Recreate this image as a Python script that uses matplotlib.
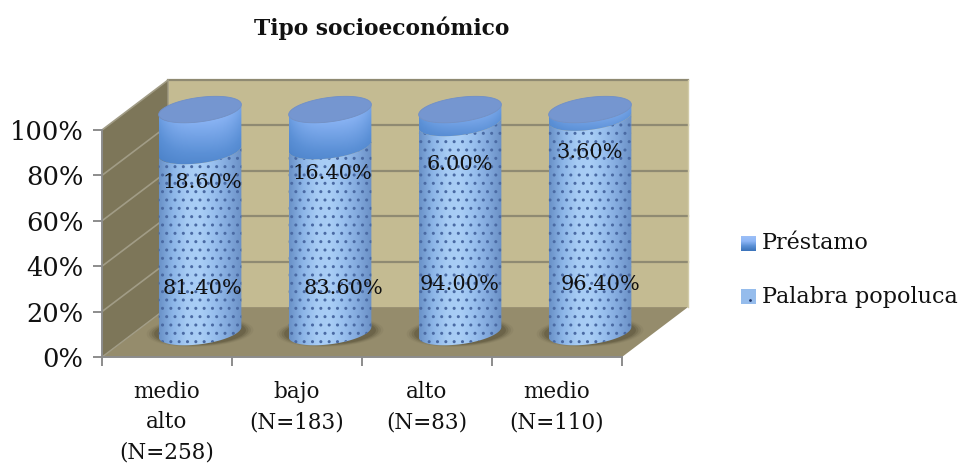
import numpy as np
import matplotlib
matplotlib.use('Agg')
import matplotlib.pyplot as plt
from matplotlib.patches import Polygon, Ellipse
from matplotlib.colors import LinearSegmentedColormap

# Valeurs du graphique
categories = ['medio\nalto\n(N=258)', 'bajo\n(N=183)', 'alto\n(N=83)', 'medio\n(N=110)']
palabra = [81.4, 83.6, 94.0, 96.4]
prestamo = [18.6, 16.4, 6.0, 3.6]
series_names = ['Préstamo', 'Palabra popoluca']
y_ticks = [0, 20, 40, 60, 80, 100]

# Position des étiquettes : décalage horizontal (catégories) et hauteur (%)
label_low_dx = [0.02, 0.1, 0.0, 0.08]
label_low_y = [30, 30, 32, 32]
label_up_dx = [0.02, 0.02, 0.0, 0.0]
label_up_y = [77, 81, 85, 90]

# Profondeur de la boîte 3D, en unités de données
DX, DY = 0.508, 22.0
RAD_X, RAD_Y, TILT = 0.318, 5.4, 7.0
# Les cylindres sont un peu raccourcis par la perspective
PERSP = 0.98
SERIF = 'DejaVu Serif'

plt.rcParams['font.family'] = SERIF

fig = plt.figure(figsize=(9.6, 4.66), dpi=100)
ax = fig.add_axes([102/960, (466-357)/466, 520/960, 227/466])


def wall(points, color):
    ax.add_patch(Polygon(points, closed=True, fc=color, ec='none', clip_on=False, zorder=1))


# Parois du fond, du côté et du sol
wall([(DX, DY), (4+DX, DY), (4+DX, 100+DY), (DX, 100+DY)], '#c4bb92')
wall([(0, 0), (DX, DY), (DX, 100+DY), (0, 100)], '#7d7659')
wall([(0, 0), (4, 0), (4+DX, DY), (DX, DY)], '#958c6c')

# Grille
for t in y_ticks[1:]:
    ax.plot([DX, 4+DX], [t+DY, t+DY], color='#8f8a72', lw=1.6, clip_on=False, zorder=2)
    ax.plot([0, DX], [t, t+DY], color='#a19c86', lw=1.2, clip_on=False, zorder=2)
ax.plot([0, DX, DX], [0, DY, 100+DY], color='#a19c86', lw=1, clip_on=False, zorder=2)
ax.plot([4+DX, 4+DX], [DY, 100+DY], color='#d2cba8', lw=1, clip_on=False, zorder=2)

body_cmap = LinearSegmentedColormap.from_list(
    'corps', ['#6a92c8', '#8db6e8', '#a6cbf4', '#a9cef6', '#98bfee', '#82a9dd', '#6b91c6'])
top_cmap = LinearSegmentedColormap.from_list('haut', ['#3c74bb', '#5b90d6', '#8db6f6', '#9cbff7'])


def arc(cx, cy, n=60):
    t = np.linspace(np.pi, 2*np.pi, n)
    x = cx + RAD_X*np.cos(t)
    y = cy + RAD_Y*np.sin(t) + TILT*(x-cx)
    return np.column_stack([x, y])


def section(cx, y0, y1):
    # Contour : arc bas de y0 puis arc bas de y1 à l'envers
    return Polygon(np.vstack([arc(cx, y0), arc(cx, y1)[::-1]]), closed=True, transform=ax.transData)


def paint(img, cx, y0, y1, clip, cmap, z):
    im = ax.imshow(img, extent=[cx-RAD_X, cx+RAD_X, y0-12, y1+12], aspect='auto',
                   cmap=cmap, vmin=0, vmax=1, zorder=z, interpolation='bilinear', origin='lower')
    im.set_clip_path(clip)
    # Les cylindres débordent du cadre des axes
    im.set_clip_box(fig.bbox)


xs = np.linspace(0, 1, 80)
for i, (v_low, v_up) in enumerate(zip(palabra, prestamo)):
    cx = i + 0.5 + DX/2
    base = DY/2
    mid = v_low*PERSP + base
    top = (v_low + v_up)*PERSP + base

    # Ombre au sol
    for scale, alpha in [(1.28, 0.08), (1.22, 0.14), (1.16, 0.22), (1.1, 0.3)]:
        ax.add_patch(Ellipse((cx, base), 2*RAD_X*scale, 2*RAD_Y*scale*0.95, angle=-0.5,
                             fc='#4f4830', ec='none', alpha=alpha, clip_on=False, zorder=3))

    # Segment du bas
    clip = section(cx, base, mid)
    paint(xs[None, :], cx, base, mid, clip, body_cmap, 4)
    ax.add_patch(Polygon(clip.get_xy(), closed=True, fc='none', ec='#4a6aa3', lw=0,
                         hatch='..', clip_on=False, zorder=5))

    # Segment du haut, dégradé vertical assombri sur les bords
    clip = section(cx, mid, top)
    yy = np.linspace(0, 1, 60)
    shade = 1 - 0.35*np.abs(2*xs-1)**3
    paint(np.outer(yy, shade), cx, mid-RAD_Y, top, clip, top_cmap, 6)

    # Couvercle
    t = np.linspace(0, 2*np.pi, 120)
    lx = cx + RAD_X*np.cos(t)
    ly = top + RAD_Y*np.sin(t) + TILT*(lx-cx)
    ax.add_patch(Polygon(np.column_stack([lx, ly]), closed=True, fc='#7596d0', ec='#6f8fc8',
                         lw=0.6, clip_on=False, zorder=7))

    # Étiquettes
    ax.text(cx+label_low_dx[i], label_low_y[i], f'{v_low:.2f}%', ha='center', va='center',
            fontsize=15, color='#111111', zorder=9, clip_on=False)
    ax.text(cx+label_up_dx[i], label_up_y[i], f'{v_up:.2f}%', ha='center', va='center',
            fontsize=15, color='#111111', zorder=9, clip_on=False)

ax.set_xlim(0, 4)
ax.set_ylim(0, 100)
for s in ['top', 'right']:
    ax.spines[s].set_visible(False)
for s in ['left', 'bottom']:
    ax.spines[s].set_color('#8c8c8c')
    ax.spines[s].set_linewidth(1.4)
    ax.spines[s].set_zorder(8)
ax.patch.set_visible(False)

ax.set_yticks(y_ticks)
ax.set_yticklabels([f'{t}%' for t in y_ticks], fontsize=18.5, color='#111111')
ax.set_xticks(range(5))
ax.set_xticklabels([])
ax.set_xticks(np.arange(4)+0.5, labels=categories, minor=True, fontsize=15.5, color='#111111',
              linespacing=1.5)
ax.tick_params(axis='both', which='major', color='#8c8c8c', width=1.4, length=6.5)
ax.tick_params(axis='y', pad=7)
ax.tick_params(axis='x', which='minor', length=0, pad=17)

fig.text(382/960, 1-28/466, 'Tipo socioeconómico', ha='center', va='center',
         fontsize=15.7, fontweight='bold', color='#111111')

# Légende
for y_px, name, kind in [(236, series_names[0], 0), (289, series_names[1], 1)]:
    sw = fig.add_axes([741/960, 1-(y_px+15)/466, 15/960, 15/466])
    sw.set_axis_off()
    if kind == 0:
        sw.imshow(np.linspace(0, 1, 20)[:, None], cmap=top_cmap, vmin=0, vmax=1, aspect='auto', origin='lower')
    else:
        sw.imshow([[0.68]], cmap=body_cmap, vmin=0, vmax=1, aspect='auto')
        sw.plot([0.1], [0.2], marker='.', ms=2, color='#23386b')
    fig.text(762/960, 1-(y_px+7.5)/466, name, ha='left', va='center', fontsize=16, color='#111111')

fig.savefig('out.png', dpi=100)
